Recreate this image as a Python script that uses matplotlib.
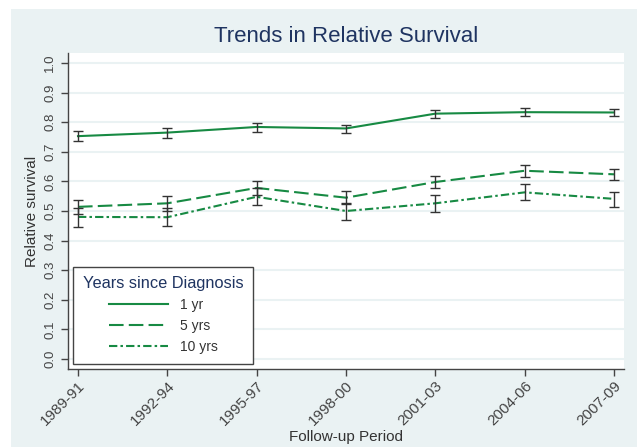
import matplotlib
matplotlib.use("Agg")
import matplotlib.pyplot as plt
from matplotlib.patches import Rectangle

plt.rcParams['font.family'] = ['Liberation Sans', 'DejaVu Sans']

periods = ['1989-91', '1992-94', '1995-97', '1998-00', '2001-03', '2004-06', '2007-09']
yticks = [0.0, 0.1, 0.2, 0.3, 0.4, 0.5, 0.6, 0.7, 0.8, 0.9, 1.0]

rs_1yr = [0.753, 0.765, 0.784, 0.779, 0.829, 0.834, 0.833]
lo_1yr = [0.736, 0.748, 0.768, 0.763, 0.815, 0.820, 0.820]
hi_1yr = [0.769, 0.780, 0.798, 0.792, 0.842, 0.847, 0.846]

rs_5yr = [0.514, 0.526, 0.578, 0.545, 0.598, 0.636, 0.624]
lo_5yr = [0.489, 0.501, 0.553, 0.525, 0.579, 0.616, 0.605]
hi_5yr = [0.538, 0.550, 0.601, 0.566, 0.619, 0.657, 0.641]

rs_10yr = [0.480, 0.479, 0.548, 0.500, 0.526, 0.563, 0.541]
lo_10yr = [0.446, 0.449, 0.519, 0.471, 0.498, 0.536, 0.515]
hi_10yr = [0.511, 0.510, 0.579, 0.528, 0.555, 0.590, 0.565]

green = '#178A43'
navy = '#1F3461'
bg = '#EAF2F3'

fig = plt.figure(figsize=(6.37, 4.47), dpi=100, facecolor='white')
fig.add_artist(Rectangle((11/637, 0), 1, 1 - 9/447, transform=fig.transFigure,
                         facecolor=bg, edgecolor='none', zorder=-10))
ax = fig.add_axes([68/637, 1 - 369/447, 556/637, 316/447])
ax.set_facecolor('white')

x = list(range(len(periods)))
series = [
    (rs_1yr, lo_1yr, hi_1yr, '1 yr', '-'),
    (rs_5yr, lo_5yr, hi_5yr, '5 yrs', (0, (7, 2.5))),
    (rs_10yr, lo_10yr, hi_10yr, '10 yrs', (0, (4, 1.5, 1.2, 1.5))),
]
handles = []
for est, lo, hi, lab, ls in series:
    h, = ax.plot(x, est, color=green, linestyle=ls, linewidth=1.5, label=lab, zorder=3)
    handles.append(h)
    err = [[e - l for e, l in zip(est, lo)], [u - e for e, u in zip(est, hi)]]
    ax.errorbar(x, est, yerr=err, fmt='none', ecolor='#333333', elinewidth=1,
                capsize=3.5, capthick=1, zorder=4)

ax.set_xlim(-0.112, 6.112)
ax.set_ylim(-0.034, 1.034)
ax.set_yticks(yticks)
ax.set_yticklabels(['%.1f' % v for v in yticks], rotation=90, va='center', fontsize=9.5,
                   color='#333333')
ax.set_xticks(x)
ax.set_xticklabels(periods, rotation=45, ha='right', rotation_mode='anchor', fontsize=11,
                   color='#333333')
ax.yaxis.grid(True, color=bg, linewidth=1.5)
ax.set_axisbelow(True)
for s in ['top', 'right']:
    ax.spines[s].set_visible(False)
for s in ['left', 'bottom']:
    ax.spines[s].set_color('#444444')
    ax.spines[s].set_linewidth(1)
ax.tick_params(colors='#444444', length=5, width=1)
ax.tick_params(axis='x', pad=2)

ax.set_ylabel('Relative survival', fontsize=11, color='#333333', labelpad=4)
fig.text(346/637, 1 - 437/447, 'Follow-up Period', ha='center', va='center',
         fontsize=11, color='#333333')
fig.text(346/637, 1 - 36/447, 'Trends in Relative Survival', ha='center', va='center',
         fontsize=16, color=navy)

leg = ax.legend(handles=handles, title='Years since Diagnosis', loc='lower left',
                bbox_to_anchor=(0.009, 0.016), borderaxespad=0, fontsize=10,
                title_fontsize=11.8, handlelength=4.3, fancybox=False, framealpha=1,
                edgecolor='#444444', borderpad=0.7, labelspacing=0.5)
leg.get_title().set_color(navy)
leg.get_frame().set_linewidth(1)
for t in leg.get_texts():
    t.set_color('#333333')

fig.savefig('out.png', dpi=100, facecolor='white')
